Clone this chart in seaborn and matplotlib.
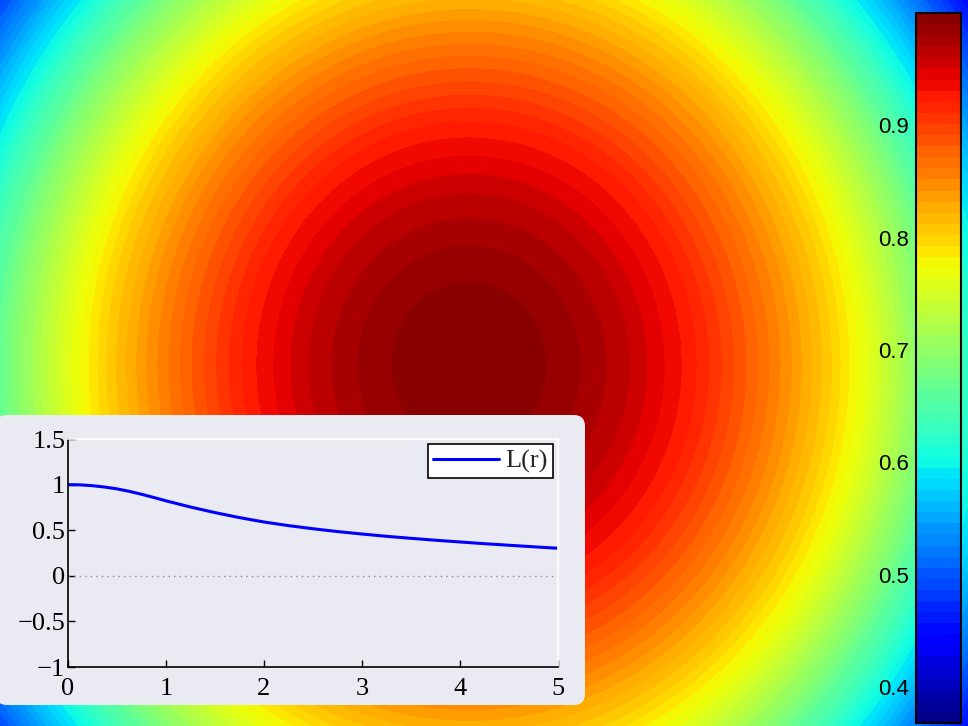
import numpy as np
import pandas as pd
import matplotlib
matplotlib.use("Agg")
import matplotlib.pyplot as plt
from matplotlib.patches import FancyBboxPatch
from matplotlib.transforms import IdentityTransform
import seaborn as sns

# Radial profile of the field: distance from the peak (canvas units) -> value
r_samples = [0, 78, 112, 138, 160, 178, 195, 212, 227, 240, 280, 320, 360,
             400, 440, 470, 500, 530, 560, 600, 640, 700]
field_values = [0.998, 0.990, 0.980, 0.970, 0.9605, 0.9506, 0.9408, 0.931,
                0.921, 0.911, 0.879, 0.844, 0.805, 0.760, 0.708, 0.665,
                0.620, 0.572, 0.522, 0.455, 0.385, 0.280]

# Inset curve L(r)
r_line = [0, 0.125, 0.25, 0.375, 0.5, 0.625, 0.75, 0.875, 1.0, 1.25, 1.5,
          1.75, 2.0, 2.25, 2.5, 2.75, 3.0, 3.25, 3.5, 3.75, 4.0, 4.25,
          4.5, 4.75, 5.0]
L_line = [1.0, 0.997, 0.988, 0.973, 0.953, 0.926, 0.894, 0.859, 0.822,
          0.754, 0.693, 0.638, 0.590, 0.550, 0.516, 0.485, 0.458, 0.433,
          0.411, 0.390, 0.371, 0.352, 0.335, 0.318, 0.302]

cbar_ticks = [0.4, 0.5, 0.6, 0.7, 0.8, 0.9]
inset_xticks = [0, 1, 2, 3, 4, 5]
inset_yticks = [-1, -0.5, 0, 0.5, 1, 1.5]
cmin, cmax = 0.3679, 1.0
n_levels = 64

sns.set_theme(style="darkgrid")

W, H = 968, 726
fig = plt.figure(figsize=(W / 100, H / 100), dpi=100)

# ---- main filled-contour field covering the whole canvas ----
ax = fig.add_axes([0, 0, 1, 1], zorder=0)
xs = np.arange(0, W + 1, 2.0)
ys = np.arange(0, H + 1, 2.0)
X, Y = np.meshgrid(xs, ys)
cx, cy, aspect = 469.0, 365.0, 1.07
D = np.sqrt((X - cx) ** 2 + ((Y - cy) / aspect) ** 2)
Z = np.interp(D, r_samples, field_values)
levels = np.linspace(cmin, cmax, n_levels + 1)
cf = ax.contourf(X, Y, Z, levels=levels, cmap="jet", antialiased=False)
ax.set_xlim(0, W)
ax.set_ylim(H, 0)
ax.set_axis_off()

# ---- colorbar on the right ----
cax = fig.add_axes([916 / W, 3 / H, 45 / W, 710 / H], zorder=3)
cb = fig.colorbar(cf, cax=cax, ticks=cbar_ticks)
cb.outline.set_edgecolor("black")
cb.outline.set_linewidth(1.5)
cax.yaxis.set_ticks_position("both")
cax.tick_params(axis="y", direction="in", length=6, width=1, color="black",
                left=True, right=True, labelleft=True, labelright=False,
                labelsize=16, pad=5, labelcolor="black")
cax.set_yticklabels([f"{v:g}" for v in cbar_ticks])
for t in cax.get_yticklabels():
    t.set_fontfamily("Liberation Sans")

# ---- rounded light panel behind the inset ----
panel = FancyBboxPatch((-4, H - 705), 589, 290,
                       boxstyle="round,pad=0,rounding_size=11",
                       transform=IdentityTransform(),
                       facecolor="#eaeaf2", edgecolor="none", zorder=1)
fig.patches.append(panel)

# ---- inset line plot ----
iax = fig.add_axes([68 / W, (H - 667) / H, 490 / W, 228 / H], zorder=2)
iax.set_facecolor("#eaeaf2")
df = pd.DataFrame({"r": r_line, "L": L_line})
sns.lineplot(data=df, x="r", y="L", ax=iax, color="#0000ff", linewidth=2.2,
             label="L(r)")
iax.axhline(0, color="#888888", linestyle=(0, (1, 3)), linewidth=1)
iax.set_xlim(0, 5)
iax.set_ylim(-1, 1.5)
iax.grid(False)
iax.set_xticks(inset_xticks)
iax.set_yticks(inset_yticks)
iax.set_xticklabels([f"{v:g}" for v in inset_xticks])
iax.set_yticklabels([f"{v:g}".replace("-", "\u2212") for v in inset_yticks])
iax.set_xlabel("")
iax.set_ylabel("")
for side in ("left", "bottom"):
    iax.spines[side].set_visible(True)
    iax.spines[side].set_color("black")
    iax.spines[side].set_linewidth(1.2)
for side in ("top", "right"):
    iax.spines[side].set_visible(True)
    iax.spines[side].set_color("white")
    iax.spines[side].set_linewidth(1.2)
iax.tick_params(axis="both", direction="in", length=5, width=1,
                color="black", labelsize=19, bottom=True, left=True,
                top=False, right=False, labelcolor="black")
iax.tick_params(axis="x", pad=8)
iax.tick_params(axis="y", pad=2)
for t in iax.get_xticklabels() + iax.get_yticklabels():
    t.set_fontfamily("Liberation Serif")

leg = iax.legend(loc="upper right", frameon=True, fancybox=False,
                 prop={"family": "Liberation Serif", "size": 19},
                 handlelength=2.5, borderpad=0.2, handletextpad=0.25,
                 borderaxespad=0,
                 bbox_to_anchor=(1 - 5 / 490, 1 - 5 / 228))
leg.get_frame().set_edgecolor("black")
leg.get_frame().set_facecolor("white")
leg.get_frame().set_linewidth(1.2)
leg.get_frame().set_alpha(1)

fig.savefig("out.png", dpi=100)
